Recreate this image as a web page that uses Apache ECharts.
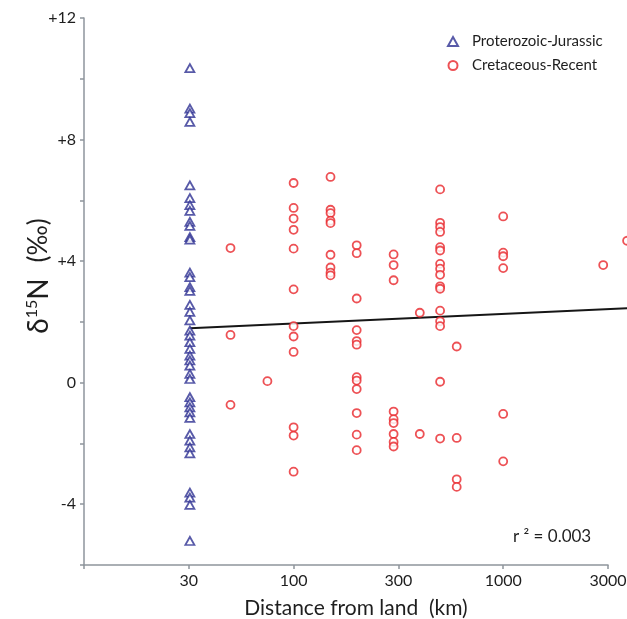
<!DOCTYPE html>
<html>
<head>
<meta charset="utf-8">
<script src="https://cdn.jsdelivr.net/npm/echarts@6/dist/echarts.min.js"></script>
<style>
  html, body { margin: 0; padding: 0; background: #fff; }
  #chart { width: 627px; height: 619px; }
</style>
</head>
<body>
<div id="chart"></div>
<script>
// ---------- Data ----------
// Proterozoic-Jurassic samples: all plotted at ~30 km from land
const protoDistKm = 32;
const protoD15N = [10.35, 9.02, 8.87, 8.58, 6.49, 6.07, 5.84, 5.65, 5.29, 5.16, 4.79, 4.71,
  3.62, 3.47, 3.14, 3.02, 2.56, 2.33, 2.05, 1.71, 1.55, 1.33, 1.11, 0.89, 0.73, 0.56,
  0.29, 0.12, -0.48, -0.65, -0.81, -0.98, -1.16, -1.69, -1.91, -2.13, -2.33,
  -3.62, -3.78, -4.02, -5.21];

// Cretaceous-Recent samples: distance (km) and δ15N (‰), parallel arrays
const cretDistKm = [
  50, 50, 50,
  75,
  100, 100, 100, 100, 100, 100, 100, 100, 100, 100, 100, 100,
  150, 150, 150, 150, 150, 150, 150, 150, 150,
  200, 200, 200, 200, 200, 200, 200, 200, 200, 200, 200, 200,
  300, 300, 300, 300, 300, 300, 300, 300, 300,
  400, 400,
  500, 500, 500, 500, 500, 500, 500, 500, 500, 500, 500, 500, 500, 500, 500, 500,
  600, 600, 600, 600,
  1000, 1000, 1000, 1000, 1000, 1000,
  3000,
  3900
];
const cretD15N = [
  4.43, 1.57, -0.73,
  0.05,
  6.57, 5.75, 5.40, 5.03, 4.41, 3.07, 1.86, 1.52, 1.01, -1.47, -1.74, -2.93,
  6.77, 5.69, 5.58, 5.33, 5.25, 4.21, 3.79, 3.62, 3.53,
  4.52, 4.26, 2.77, 1.73, 1.37, 1.25, 0.18, 0.07, -0.21, -1.00, -1.71, -2.22,
  4.22, 3.87, 3.37, -0.95, -1.20, -1.33, -1.69, -1.95, -2.10,
  2.30, -1.69,
  6.36, 5.26, 5.12, 4.96, 4.46, 4.35, 3.91, 3.75, 3.55, 3.17, 3.09, 2.37, 2.02, 1.86, 0.03, -1.84,
  1.19, -1.82, -3.18, -3.43,
  5.47, 4.28, 4.16, 3.77, -1.03, -2.59,
  3.87,
  4.67
];

// Regression line end points (km, ‰)
const regDistKm = [32, 5000];
const regD15N = [1.79, 2.48];

// Axis tick labels (half-decade ticks on log10 distance)
const xTickLabels = ['30', '100', '300', '1000', '3000'];
const seriesNames = ['Proterozoic-Jurassic', 'Cretaceous-Recent'];
const rSquaredText = 'r ² = 0.003';

// ---------- Build ----------
const lg = v => Math.log10(v);
const protoData = protoD15N.map(v => [lg(protoDistKm), v]);
const cretData = cretDistKm.map((d, i) => [lg(d), cretD15N[i]]);
const regData = regDistKm.map((d, i) => [lg(d), regD15N[i]]);

const FONT = 'Lato';
const TXT = '#1e1e1e';
const BLUE = '#2e3192';
const RED = '#e8262b';
const AXIS = '#8e959c';

// Visible axis spans log10(km) 1 .. 3.5; data layer uses the same scale, extended past the right edge.
const GRID_LEFT = 84, GRID_TOP = 18, GRID_BOTTOM = 54, VIS_RIGHT = 19;
const X_MIN = 1, X_MAX = 3.5, X_MAX_DATA = 3.8;
const pxPerUnit = (627 - GRID_LEFT - VIS_RIGHT) / (X_MAX - X_MIN);
const dataWidth = pxPerUnit * (X_MAX_DATA - X_MIN);
const gridHeight = 619 - GRID_TOP - GRID_BOTTOM;

const chart = echarts.init(document.getElementById('chart'), null, { renderer: 'canvas' });
chart.setOption({
  animation: false,
  backgroundColor: '#fff',
  textStyle: { fontFamily: FONT },
  grid: [
    { left: GRID_LEFT, right: VIS_RIGHT, top: GRID_TOP, bottom: GRID_BOTTOM, containLabel: false, outerBoundsMode: 'none' },
    { left: GRID_LEFT, top: GRID_TOP, width: dataWidth, height: gridHeight, containLabel: false, outerBoundsMode: 'none' }
  ],
  title: {
    text: rSquaredText,
    left: 508, top: 523,
    textStyle: { fontFamily: FONT, fontSize: 17, fontWeight: 'normal', color: TXT }
  },
  legend: {
    orient: 'vertical',
    left: 442, top: 29,
    itemWidth: 10, itemHeight: 9, itemGap: 9,
    textStyle: { fontFamily: FONT, fontSize: 15, color: TXT, padding: [0, 0, 0, 9] },
    data: [
      { name: seriesNames[0], icon: 'triangle', itemStyle: { color: '#fff', borderColor: BLUE, borderWidth: 2 } },
      { name: seriesNames[1], icon: 'circle', itemStyle: { color: '#fff', borderColor: RED, borderWidth: 2 } }
    ]
  },
  xAxis: [
    {
      gridIndex: 0,
      type: 'value',
      min: X_MIN, max: X_MAX, interval: 0.5,
      name: 'Distance from land  (km)',
      nameLocation: 'middle',
      nameGap: 33,
      nameTextStyle: { fontFamily: FONT, fontSize: 21, color: TXT, padding: [0, 0, 0, 20] },
      axisLine: { show: true, onZero: false, lineStyle: { color: AXIS, width: 1.5 } },
      axisTick: { show: true, inside: false, length: 4, lineStyle: { color: AXIS, width: 1.5 } },
      axisLabel: {
        fontFamily: FONT, fontSize: 16, color: TXT, margin: 8,
        formatter: v => {
          const i = Math.round((v - 1.5) / 0.5);
          return i >= 0 && i < xTickLabels.length ? xTickLabels[i] : '';
        }
      },
      splitLine: { show: false }
    },
    { gridIndex: 1, type: 'value', min: X_MIN, max: X_MAX_DATA, show: false }
  ],
  yAxis: [
    {
      gridIndex: 0,
      type: 'value',
      min: -6, max: 12, interval: 2,
      name: '{g| }{d|δ}{s|15}{n|N}{h| }{p|(‰)}',
      nameLocation: 'middle',
      nameRotate: 90,
      nameGap: 30,
      nameMoveOverlap: false,
      nameTextStyle: {
        fontFamily: FONT, color: TXT,
        rich: {
          g: { width: 31, fontSize: 10 },
          d: { fontFamily: FONT, fontSize: 28, color: TXT },
          s: { fontFamily: FONT, fontSize: 16, color: TXT, padding: [0, 0, 14, 0] },
          n: { fontFamily: FONT, fontSize: 28, color: TXT },
          h: { width: 16, fontSize: 10 },
          p: { fontFamily: FONT, fontSize: 26, color: TXT }
        }
      },
      axisLine: { show: true, onZero: false, lineStyle: { color: AXIS, width: 1.5 } },
      axisTick: { show: true, inside: false, length: 4, lineStyle: { color: AXIS, width: 1.5 } },
      axisLabel: {
        fontFamily: FONT, fontSize: 16, color: TXT, margin: 8,
        formatter: v => (v % 4 === 0 && v > -6) ? (v > 0 ? '+' + v : String(v)) : ''
      },
      splitLine: { show: false }
    },
    { gridIndex: 1, type: 'value', min: -6, max: 12, show: false }
  ],
  series: [
    {
      name: 'regression',
      type: 'line',
      xAxisIndex: 1, yAxisIndex: 1,
      data: regData,
      symbol: 'none',
      silent: true,
      lineStyle: { color: '#161616', width: 2 },
      z: 1
    },
    {
      name: seriesNames[0],
      type: 'scatter',
      xAxisIndex: 1, yAxisIndex: 1,
      data: protoData,
      symbol: 'triangle',
      symbolSize: [9, 8],
      itemStyle: { color: '#fff', borderColor: BLUE, borderWidth: 1.8 },
      z: 3
    },
    {
      name: seriesNames[1],
      type: 'scatter',
      xAxisIndex: 1, yAxisIndex: 1,
      data: cretData,
      symbol: 'circle',
      symbolSize: 8,
      itemStyle: { color: '#fff', borderColor: RED, borderWidth: 1.8 },
      z: 2
    }
  ]
});
</script>
</body>
</html>
